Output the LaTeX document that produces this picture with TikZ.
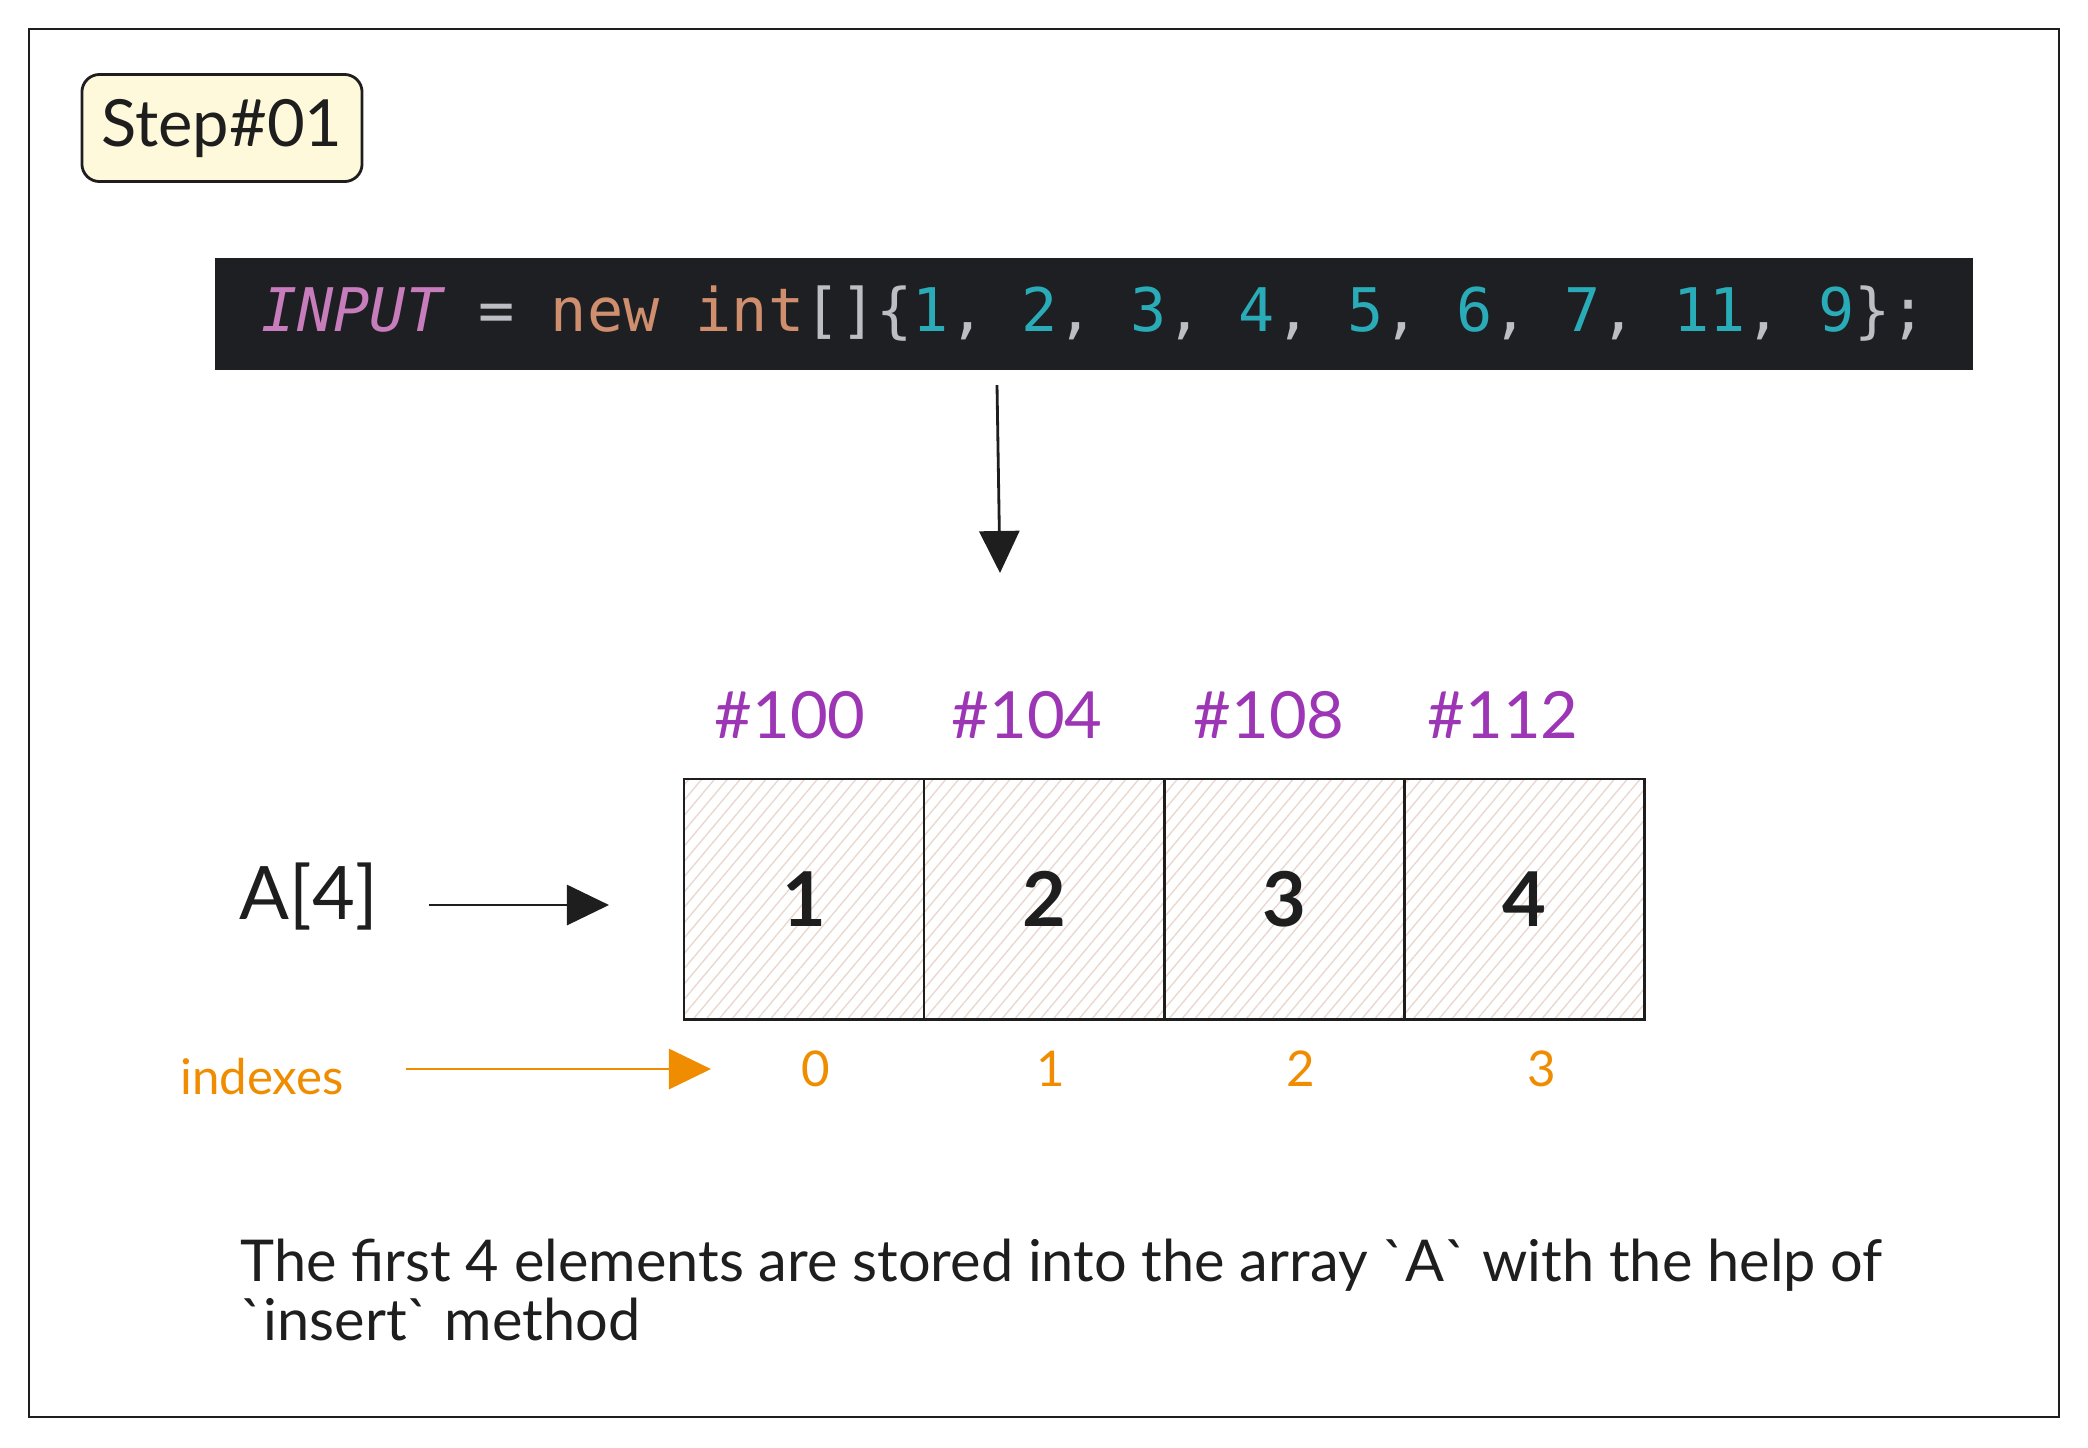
\documentclass[tikz,border=0pt]{standalone}
\usepackage{fontspec}
\setmainfont{Lato}
\newfontfamily\codefont{DejaVu Sans Mono}
\usetikzlibrary{positioning, arrows.meta, patterns.meta}
\definecolor{ink}{HTML}{1E1E1E}
\definecolor{stepfill}{HTML}{FFF9DB}
\definecolor{codebg}{HTML}{1E1F22}
\definecolor{cpink}{HTML}{C77DBB}
\definecolor{ckey}{HTML}{CF8E6D}
\definecolor{cnumc}{HTML}{2AACB8}
\definecolor{cgray}{HTML}{BCBEC4}
\definecolor{addrpurple}{HTML}{9C36B5}
\definecolor{idxorange}{HTML}{F08C00}
\definecolor{hatch}{HTML}{E9D8D0}
\newcommand{\cnum}[1]{\textcolor{cnumc}{#1}}
\newcommand{\cpun}[1]{\textcolor{cgray}{#1}}
\tikzset{
x=0.01cm, y=-0.01cm, % one unit is one pixel of the picture
>={Triangle[length=0.42cm,width=0.40cm]}, % filled heads
every node/.style={text=ink, inner sep=0pt},
stepbox/.style={draw=ink, line width=0.8pt, fill=stepfill, rounded corners=5pt, minimum width=2.8cm, minimum height=1.07cm, font=\fontsize{18.5}{22}\selectfont},
codebar/.style={fill=codebg, minimum width=17.56cm, minimum height=1.12cm, font=\codefont\fontsize{17.1}{20}\selectfont},
cell/.style={draw=ink, line width=0.8pt, outer sep=0pt, minimum size=2.4cm, pattern={Lines[angle=50,distance=2.8pt,line width=0.4pt]}, pattern color=hatch, font=\fontsize{21.5}{26}\selectfont\bfseries},
addr/.style={text=addrpurple, font=\fontsize{18.5}{22}\selectfont},
idx/.style={text=idxorange, font=\fontsize{14}{17}\selectfont},
arr/.style={->, draw=ink, line width=0.8pt},
}

\begin{document}
\begin{tikzpicture}
                \useasboundingbox (0,0) rectangle (2088,1447);
                \draw[ink, line width=0.8pt] (29,29) rectangle (2059,1417);

                \node[stepbox] (step) at (222,128) {Step\#01};
                \node[codebar] (code) at (1094,314) {\textcolor{cpink}{\itshape INPUT} \cpun{=} \textcolor{ckey}{new int}\cpun{[]\{}\cnum{1}\cpun{,} \cnum{2}\cpun{,} \cnum{3}\cpun{,} \cnum{4}\cpun{,} \cnum{5}\cpun{,} \cnum{6}\cpun{,} \cnum{7}\cpun{,} \cnum{11}\cpun{,} \cnum{9}\cpun{\};}};

                \coordinate (inTop) at (997,385);
                \coordinate (inEnd) at (1000,573);
                \draw[arr] (inTop) -- (inEnd);

                % the array cells
                \node[cell] (c1) at (804,899) {1};
                \node[cell, right=0pt of c1] (c2) {2};
                \node[cell, right=0pt of c2] (c3) {3};
                \node[cell, right=0pt of c3] (c4) {4};

                \node[addr] (a1) at (790,715) {\#100};
                \node[addr] (a2) at (1027,715) {\#104};
                \node[addr] (a3) at (1269,715) {\#108};
                \node[addr] (a4) at (1503,715) {\#112};

                \node[font=\fontsize{21}{25}\selectfont] (arrA) at (309,897) {A[4]};
                \coordinate (arrAend) at (609,905);
                \draw[arr] ([xshift=0.5cm]arrA.east |- arrAend) -- (arrAend);

                \node[idx] (idxlbl) at (262,1077) {indexes};
                \coordinate (idxend) at (711,1069);
                \draw[arr, draw=idxorange, fill=idxorange] ([xshift=0.62cm]idxlbl.east |- idxend) -- (idxend);

                \node[idx] (i0) at (816,1069) {0};
                \node[idx] (i1) at (1051,1069) {1};
                \node[idx] (i2) at (1301,1069) {2};
                \node[idx] (i3) at (1542,1069) {3};

                \node[align=left, anchor=west, font=\fontsize{16.4}{17}\selectfont] (note) at (240,1290) {The first 4 elements are stored into the array \textasciigrave A\textasciigrave{} with the help of\\\textasciigrave insert\textasciigrave{} method};
            \end{tikzpicture}
\end{document}
